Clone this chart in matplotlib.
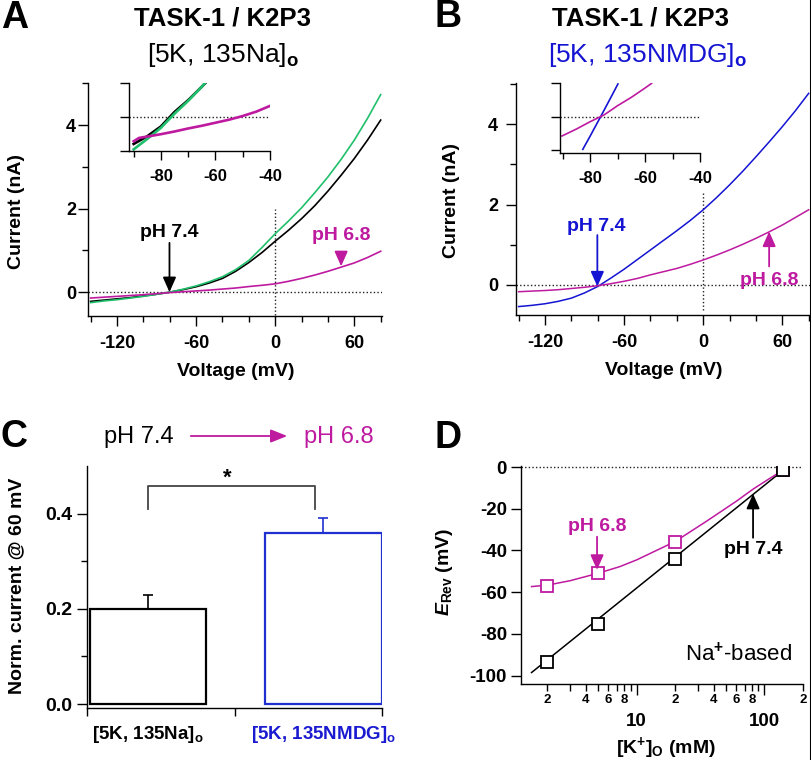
import matplotlib
matplotlib.use("Agg")
import matplotlib.pyplot as plt
from matplotlib.lines import Line2D
from matplotlib.ticker import FixedLocator, FixedFormatter, NullFormatter

plt.rcParams['font.family'] = ['Liberation Sans', 'DejaVu Sans']
plt.rcParams['font.weight'] = 'bold'
plt.rcParams['axes.labelweight'] = 'bold'
plt.rcParams['axes.unicode_minus'] = False
plt.rcParams['mathtext.fontset'] = 'custom'
plt.rcParams['mathtext.rm'] = 'Liberation Sans'
plt.rcParams['mathtext.bf'] = 'Liberation Sans:bold'
plt.rcParams['mathtext.it'] = 'Liberation Sans:italic:bold'

MAGENTA = '#BE1AA0'
BLUE = '#1414D2'
GREEN = '#20BF6B'

# Панель A: вольт-амперные кривые, [5K, 135Na]o
voltage = [-140, -130, -120, -110, -100, -90, -80, -70, -60, -50, -40, -30,
           -20, -10, 0, 10, 20, 30, 40, 50, 60, 70, 80]
a_ph74_black = [-0.22, -0.19, -0.16, -0.13, -0.09, -0.05, 0.0, 0.06, 0.13, 0.22,
                0.33, 0.50, 0.71, 0.95, 1.22, 1.48, 1.76, 2.07, 2.42, 2.80,
                3.20, 3.64, 4.12]
a_ph74_green = [-0.25, -0.21, -0.18, -0.14, -0.10, -0.05, 0.0, 0.07, 0.15, 0.25,
                0.37, 0.54, 0.76, 1.07, 1.40, 1.70, 2.02, 2.38, 2.76, 3.18,
                3.64, 4.16, 4.73]
a_ph68 = [-0.14, -0.12, -0.10, -0.08, -0.06, -0.035, -0.01, 0.01, 0.03, 0.05,
          0.075, 0.10, 0.135, 0.165, 0.20, 0.26, 0.33, 0.41, 0.50, 0.60,
          0.70, 0.83, 0.98]

# Панель B: [5K, 135NMDG]o
b_ph74 = [-0.54, -0.51, -0.47, -0.41, -0.33, -0.20, -0.04, 0.17, 0.39, 0.63,
          0.87, 1.11, 1.35, 1.60, 1.87, 2.17, 2.49, 2.83, 3.19, 3.56,
          3.94, 4.34, 4.77]
b_ph68 = [-0.17, -0.155, -0.14, -0.12, -0.09, -0.06, -0.02, 0.03, 0.09, 0.16,
          0.25, 0.33, 0.41, 0.51, 0.62, 0.74, 0.87, 1.01, 1.16, 1.32,
          1.49, 1.68, 1.87]

# Врезки (увеличенный участок около потенциала реверсии)
inset_a_v = [-90, -85, -80, -75, -70, -65, -62]
inset_a_black = [-0.080, -0.057, -0.028, 0.015, 0.050, 0.090, 0.115]
inset_a_green = [-0.096, -0.065, -0.032, 0.010, 0.048, 0.090, 0.118]
inset_a_v68 = [-90, -88, -85, -80, -75, -70, -65, -60, -55, -50, -45, -40]
inset_a_ph68 = [-0.072, -0.062, -0.058, -0.051, -0.043, -0.034, -0.026,
                -0.017, -0.008, 0.003, 0.016, 0.033]
inset_b_v74 = [-82.7, -80, -76, -72, -69.9]
inset_b_ph74 = [-0.098, -0.058, 0.003, 0.065, 0.098]
inset_b_v68 = [-90.3, -85, -80, -75, -70, -65, -60, -57.6]
inset_b_ph68 = [-0.058, -0.037, -0.015, 0.005, 0.033, 0.058, 0.086, 0.100]

# Панель C
c_labels = [r'[5K, 135Na]$_\mathbf{o}$', r'[5K, 135NMDG]$_\mathbf{o}$']
c_values = [0.20, 0.36]
c_errors = [0.03, 0.03]

# Панель D
k_out = [2, 5, 20, 140]
erev_ph74 = [-93.3, -75.2, -44.0, -1.6]
erev_ph68 = [-57.0, -50.6, -36.0, -1.6]
fit_k_ph74 = [1.5, 140]
fit_ph74 = [-98.5, -1.6]
fit_k_ph68 = [1.5, 2, 3, 5, 7.4, 10, 20, 35, 60, 82, 110, 140]
fit_ph68 = [-57.3, -56.6, -54.5, -50.9, -47.7, -44.5, -35.7, -26.1, -16.5, -10.5,
            -5.5, -1.5]

W, H = 812, 760
fig = plt.figure(figsize=(W / 100, H / 100), dpi=100)


def box(left, top, right, bottom):
    # пиксели -> доли фигуры
    return [left / W, 1 - bottom / H, (right - left) / W, (bottom - top) / H]


def style_axes(ax, ypad=2, xpad=7, size=13):
    for s in ('top', 'right'):
        ax.spines[s].set_visible(False)
    for s in ('left', 'bottom'):
        ax.spines[s].set_linewidth(1.0)
    ax.tick_params(which='major', direction='out', length=7, width=1.0, labelsize=size)
    ax.tick_params(which='minor', direction='out', length=4.5, width=1.0)
    ax.tick_params(axis='x', which='major', pad=xpad)
    ax.tick_params(axis='y', which='major', pad=ypad)


def arrow(ax, tail, tip, color):
    ax.annotate('', xy=tip, xytext=tail,
                arrowprops=dict(arrowstyle='-|>,head_length=0.45,head_width=0.2',
                                color=color, lw=1.3, shrinkA=0, shrinkB=0,
                                mutation_scale=20))


def iv_panel(rect, ylim, ypad):
    ax = fig.add_axes(rect)
    style_axes(ax, ypad=ypad)
    ax.set_xlim(-142, 81)
    ax.set_ylim(*ylim)
    ax.xaxis.set_major_locator(FixedLocator([-120, -60, 0, 60]))
    ax.xaxis.set_minor_locator(FixedLocator([-140, -100, -80, -40, -20, 20, 40, 80]))
    ax.yaxis.set_major_locator(FixedLocator([0, 2, 4]))
    ax.yaxis.set_minor_locator(FixedLocator([1, 3, 5]))
    ax.axhline(0, color='#222222', lw=1.0, ls=(0, (1, 1.6)), zorder=1)
    ax.set_xlabel('Voltage (mV)', fontsize=14)
    ax.set_ylabel('Current (nA)', fontsize=14)
    return ax


def inset_panel(rect, xlim, ylim):
    ax = fig.add_axes(rect)
    style_axes(ax, size=12)
    ax.tick_params(which='major', length=6.5)
    ax.set_xlim(*xlim)
    ax.set_ylim(*ylim)
    ax.xaxis.set_major_locator(FixedLocator([-80, -60, -40]))
    ax.xaxis.set_minor_locator(FixedLocator([-90, -70, -50]))
    ax.yaxis.set_major_locator(FixedLocator([-0.1, 0, 0.1]))
    ax.yaxis.set_major_formatter(NullFormatter())
    ax.axhline(0, color='#222222', lw=1.0, ls=(0, (1, 1.6)), zorder=1)
    ax.patch.set_alpha(0)
    return ax


# ---------- A ----------
axA = iv_panel(box(88, 83.3, 382, 316), (-0.57, 5.0), ypad=1.5)
axA.plot([0, 0], [-0.55, 2.0], color='#222222', lw=1.0, ls=(0, (1, 1.6)), zorder=1)
axA.plot(voltage, a_ph74_black, color='black', lw=1.2)
axA.plot(voltage, a_ph74_green, color=GREEN, lw=1.2)
axA.plot(voltage, a_ph68, color=MAGENTA, lw=1.2)
axA.text(-80.2, 1.32, 'pH 7.4', ha='center', va='baseline', fontsize=14)
arrow(axA, (-80.2, 1.18), (-80.2, 0.0), 'black')
axA.text(50, 1.24, 'pH 6.8', ha='center', va='baseline', fontsize=14, color=MAGENTA)
arrow(axA, (50, 0.9), (50, 0.62), MAGENTA)
axA.yaxis.set_label_coords(-0.214, 0.447)
axA.xaxis.set_label_coords(0.503, -0.20)

inA = inset_panel(box(129.3, 83.3, 270, 150.7), (-91.6, -40), (-0.1, 0.1))
inA.plot(inset_a_v, inset_a_black, color='black', lw=1.9)
inA.plot(inset_a_v, inset_a_green, color=GREEN, lw=1.9)
inA.plot(inset_a_v68, inset_a_ph68, color=MAGENTA, lw=1.9)

# ---------- B ----------
axB = iv_panel(box(516, 83.3, 810, 315), (-0.75, 5.02), ypad=6)
axB.plot([0, 0], [-0.62, 2.28], color='#222222', lw=1.0, ls=(0, (1, 1.6)), zorder=1)
axB.plot(voltage, b_ph74, color=BLUE, lw=1.1)
axB.plot(voltage, b_ph68, color=MAGENTA, lw=1.1)
axB.text(-80.8, 1.35, 'pH 7.4', ha='center', va='baseline', fontsize=14, color=BLUE)
arrow(axB, (-80.3, 1.24), (-80.3, -0.04), BLUE)
axB.text(50, 0.0, 'pH 6.8', ha='center', va='baseline', fontsize=14, color=MAGENTA)
arrow(axB, (50, 0.46), (50, 1.33), MAGENTA)
axB.yaxis.set_label_coords(-0.19, 0.496)
axB.xaxis.set_label_coords(0.503, -0.205)

inB = inset_panel(box(560, 83.3, 700, 152.7), (-91.0, -40), (-0.108, 0.1))
inB.plot(inset_b_v74, inset_b_ph74, color=BLUE, lw=1.2)
inB.plot(inset_b_v68, inset_b_ph68, color=MAGENTA, lw=1.2)

# ---------- C ----------
axC = fig.add_axes(box(87.3, 466, 382.3, 708.3))
style_axes(axC, ypad=3.5, size=14)
axC.set_xlim(0, 2)
axC.set_ylim(-0.009, 0.5)
axC.yaxis.set_major_locator(FixedLocator([0, 0.2, 0.4]))
axC.yaxis.set_minor_locator(FixedLocator([0.1, 0.3]))
axC.xaxis.set_major_locator(FixedLocator([0, 1, 2]))
axC.xaxis.set_major_formatter(NullFormatter())
axC.tick_params(axis='x', which='major', length=6)
bar_x = [0.41, 1.6]
bar_colors = ['black', '#2030D0']
axC.bar(bar_x, c_values, width=0.79, fill=False, edgecolor=bar_colors, linewidth=1.6)
for x, v, e, c in zip(bar_x, c_values, c_errors, bar_colors):
    axC.errorbar([x], [v], yerr=[[0], [e]], fmt='none', ecolor=c, elinewidth=1.2,
                 capsize=3.5, capthick=1.2)
axC.set_xticks(bar_x, c_labels, minor=True)
axC.tick_params(axis='x', which='minor', length=0, pad=11, labelsize=13.5)
for lbl, c in zip(axC.get_xticklabels(minor=True), ['black', '#1A1AD0']):
    lbl.set_color(c)
axC.plot([0.41, 0.41, 1.545, 1.545], [0.41, 0.459, 0.459, 0.41], color='#444444', lw=1.3)
axC.text(0.947, 0.462, '*', ha='center', va='baseline', fontsize=16)
axC.set_ylabel('Norm. current @ 60 mV', fontsize=14)
axC.yaxis.set_label_coords(-0.211, 0.505)

fig.text(139 / W, 1 - 443 / H, 'pH 7.4', ha='center', va='baseline', fontsize=17,
         fontweight='normal')
fig.text(339 / W, 1 - 443 / H, 'pH 6.8', ha='center', va='baseline', fontsize=17,
         fontweight='normal', color=MAGENTA)
fig.add_artist(matplotlib.patches.FancyArrowPatch(
    (188 / W, 1 - 436 / H), (290 / W, 1 - 436 / H), transform=fig.transFigure,
    arrowstyle='-|>,head_length=0.5,head_width=0.2', mutation_scale=20,
    color=MAGENTA, lw=1.3))

# ---------- D ----------
axD = fig.add_axes(box(521, 466, 803.3, 684))
style_axes(axD, ypad=3, size=13.5)
axD.set_xscale('log')
axD.set_xlim(1.24, 202)
axD.set_ylim(-104, 0.5)
axD.yaxis.set_major_locator(FixedLocator([-100, -80, -60, -40, -20, 0]))
axD.xaxis.set_major_locator(FixedLocator([10, 100]))
axD.xaxis.set_major_formatter(FixedFormatter(['10', '100']))
minor_k = [2, 3, 4, 5, 6, 7, 8, 9, 20, 30, 40, 50, 60, 70, 80, 90, 200]
minor_lbl = ['2', '', '4', '', '6', '', '8', '', '2', '', '4', '', '6', '', '8', '', '2']
axD.xaxis.set_minor_locator(FixedLocator(minor_k))
axD.xaxis.set_minor_formatter(FixedFormatter(minor_lbl))
axD.tick_params(axis='x', which='major', length=8, pad=13)
axD.tick_params(axis='x', which='minor', length=5, pad=2, labelsize=9.5)
axD.axhline(0, color='#222222', lw=1.0, ls=(0, (1, 1.6)), zorder=1)
axD.plot(fit_k_ph74, fit_ph74, color='black', lw=1.1, zorder=2)
axD.plot(fit_k_ph68, fit_ph68, color=MAGENTA, lw=1.1, zorder=2)
axD.plot(k_out, erev_ph68, 's', ms=8.5, mfc='white', mec=MAGENTA, mew=1.3, zorder=3)
axD.plot(k_out, erev_ph74, 's', ms=8.5, mfc='white', mec='black', mew=1.3, zorder=4)
axD.text(4.89, -30.6, 'pH 6.8', ha='center', va='baseline', fontsize=14, color=MAGENTA)
arrow(axD, (4.89, -33.4), (4.89, -49.3), MAGENTA)
axD.text(81.6, -41.6, 'pH 7.4', ha='center', va='baseline', fontsize=14)
arrow(axD, (81.6, -33.9), (81.6, -12.8), 'black')
axD.text(0.769, 0.107, 'Na$^{+}$-based', transform=axD.transAxes, ha='center',
         va='baseline', fontsize=16, fontweight='normal')
axD.set_ylabel(r'$E_{\mathbf{Rev}}$ (mV)', fontsize=14)
axD.set_xlabel(r'[K$^{\mathbf{+}}$]$_{\mathbf{O}}$ (mM)', fontsize=14)
axD.yaxis.set_label_coords(-0.234, 0.514)
axD.xaxis.set_label_coords(0.514, -0.234)

# Заголовки и буквы панелей
fig.text(222.5 / W, 1 - 25 / H, 'TASK-1 / K2P3', ha='center', va='baseline', fontsize=18.5)
fig.text(640.5 / W, 1 - 25 / H, 'TASK-1 / K2P3', ha='center', va='baseline', fontsize=18.5)
fig.text(223 / W, 1 - 61.7 / H, r'[5K, 135Na]$_\mathbf{o}$', ha='center', va='baseline',
         fontsize=19, fontweight='normal')
fig.text(648 / W, 1 - 61.7 / H, r'[5K, 135NMDG]$_\mathbf{o}$', ha='center', va='baseline',
         fontsize=19, fontweight='normal', color=BLUE)
for letter, x, y in [('A', 1, 28), ('B', 435, 27), ('C', 0, 447), ('D', 435, 448)]:
    fig.text(x / W, 1 - y / H, letter, ha='left', va='baseline', fontsize=27)

fig.add_artist(Line2D([811 / W, 811 / W], [0, 1], transform=fig.transFigure,
                      color='black', lw=1.5))

fig.savefig('out.png', dpi=100)
